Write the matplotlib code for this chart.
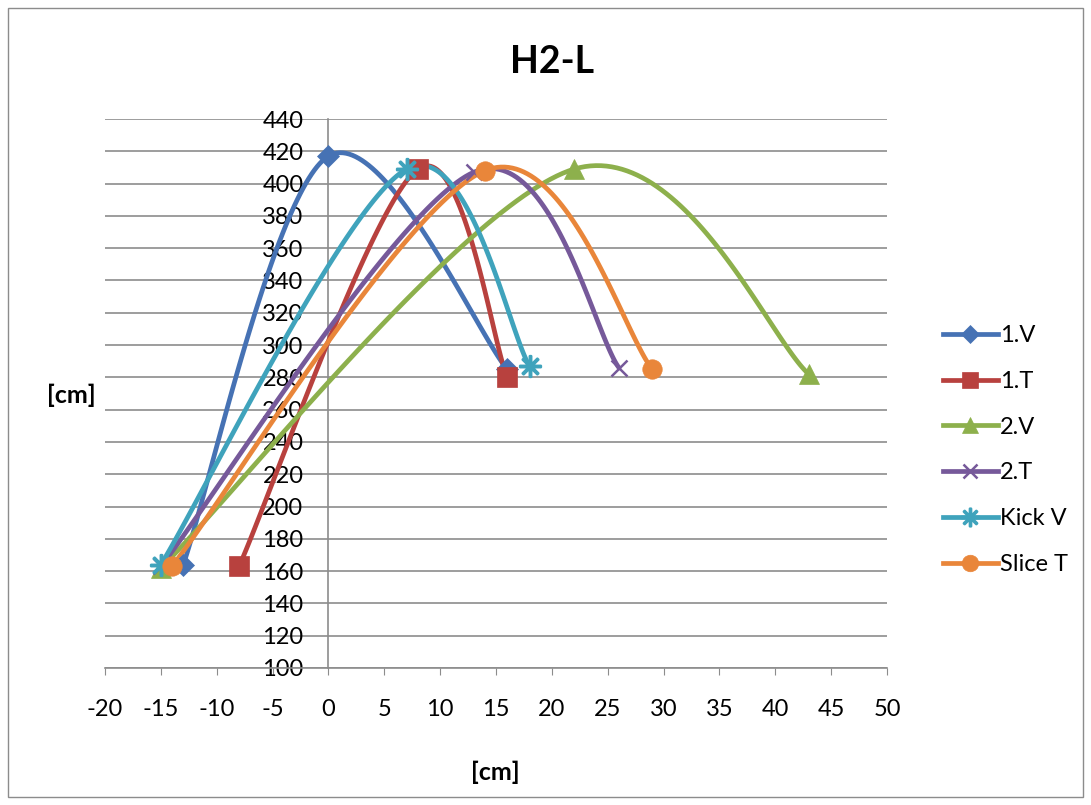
import numpy as np
import matplotlib.pyplot as plt
from matplotlib.patches import Rectangle

plt.rcParams['font.family'] = ['Lato', 'DejaVu Sans']
plt.rcParams['axes.unicode_minus'] = False

# series data (x in cm, y in cm)
names = ["1.V", "1.T", "2.V", "2.T", "Kick V", "Slice T"]
x_1v = [-13, 0, 16]
y_1v = [164, 417, 285]
x_1t = [-8, 8, 16]
y_1t = [163, 409, 280]
x_2v = [-15, 22, 43]
y_2v = [162, 409, 282]
x_2t = [-15, 13, 26]
y_2t = [163, 407, 286]
x_kv = [-15, 7, 18]
y_kv = [164, 409, 287]
x_st = [-14, 14, 29]
y_st = [163, 408, 285]

xs = [x_1v, x_1t, x_2v, x_2t, x_kv, x_st]
ys = [y_1v, y_1t, y_2v, y_2t, y_kv, y_st]
colors = ["#4672B4", "#B8413E", "#8DB04C", "#76599A", "#3FA3BC", "#E9863A"]
markers = ["D", "s", "^", "x", "$\u2733$", "o"]
msizes = [11, 14, 14, 12, 15, 14]


def smooth(x, y, n=60):
    # Excel-like smoothed line: Catmull-Rom style Bezier between points
    p = np.column_stack([x, y]).astype(float)
    p = np.vstack([p[0], p, p[-1]])
    out = []
    for i in range(1, len(p) - 2):
        p0, p1, p2, p3 = p[i - 1], p[i], p[i + 1], p[i + 2]
        c1 = p1 + (p2 - p0) / 6
        c2 = p2 - (p3 - p1) / 6
        t = np.linspace(0, 1, n)[:, None]
        seg = ((1 - t) ** 3) * p1 + 3 * ((1 - t) ** 2) * t * c1 + 3 * (1 - t) * t ** 2 * c2 + t ** 3 * p2
        out.append(seg)
    c = np.vstack(out)
    return c[:, 0], c[:, 1]


fig = plt.figure(figsize=(10.91, 8.05), dpi=100)
fig.patches.append(Rectangle((8 / 1091, 8 / 805), 1075 / 1091, 789 / 805,
                             transform=fig.transFigure, fill=False,
                             edgecolor="#8c8c8c", linewidth=1))
ax = fig.add_axes([105 / 1091, 1 - 668 / 805, 782 / 1091, 549 / 805])

for x, y, c, m, ms, nm in zip(xs, ys, colors, markers, msizes, names):
    sx, sy = smooth(x, y)
    ax.plot(sx, sy, color=c, lw=3.4, solid_capstyle="round", zorder=3)
    mew = 1.8 if m in ("x", "$\u2733$") else 0.5
    ax.plot(x, y, linestyle="none", marker=m, markersize=ms, color=c,
            markeredgecolor=c, markeredgewidth=mew, zorder=4)
    ax.plot([], [], color=c, lw=3.4, marker=m, markersize=ms * 0.85,
            markeredgewidth=mew, label=nm)

ax.set_xlim(-20, 50)
ax.set_ylim(100, 440)
ax.set_xticks(np.arange(-20, 51, 5))
ax.set_yticks(np.arange(100, 441, 20))
ax.yaxis.grid(True, color="#8c8c8c", lw=1.2)
ax.set_axisbelow(True)

for s in ("top", "right"):
    ax.spines[s].set_visible(False)
ax.spines["left"].set_position(("data", 0))
ax.spines["left"].set_color("#8c8c8c")
ax.spines["bottom"].set_color("#8c8c8c")
ax.spines["left"].set_linewidth(1.2)
ax.spines["bottom"].set_linewidth(1.2)
ax.tick_params(axis="x", direction="out", length=5, color="#8c8c8c", labelsize=17, pad=17)
ax.tick_params(axis="y", length=0, labelsize=17, pad=18)

fig.text(552 / 1091, 1 - 62 / 805, "H2-L", fontsize=27, fontweight="bold",
         ha="center", va="center")
fig.text(495 / 1091, 1 - 772 / 805, "[cm]", fontsize=18, fontweight="bold",
         ha="center", va="center")
fig.text(71 / 1091, 1 - 395 / 805, "[cm]", fontsize=18, fontweight="bold",
         ha="center", va="center")

leg = fig.legend(loc="center left", bbox_to_anchor=(922 / 1091, 1 - 450 / 805),
                 frameon=False, fontsize=17, handlelength=2.3, labelspacing=1.05,
                 handletextpad=0.1)

plt.savefig("out.png", dpi=100)
